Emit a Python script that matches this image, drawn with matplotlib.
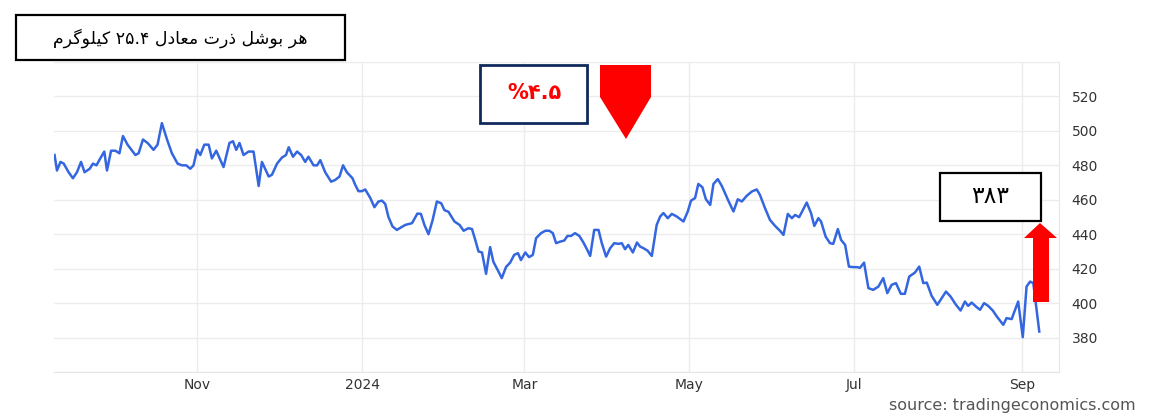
import datetime as dt
import matplotlib
matplotlib.use('Agg')
import matplotlib.pyplot as plt
import matplotlib.dates as mdates
import numpy as np
from matplotlib.patches import Rectangle, Polygon

# days counted from 2023-11-01, prices in US cents per bushel
days = [-52.8, -51.9, -50.6, -49.4, -47.6, -46.0, -44.5, -43.0, -41.7, -39.8,
        -38.6, -37.3, -35.9, -34.4, -33.4, -31.9, -30.3, -28.8, -27.5, -25.8,
        -22.9, -21.7, -20.1, -18.4, -16.2, -14.7, -13.1, -11.2, -9.4, -7.3,
        -5.7, -4.1, -2.6, -1.4, -0.1, 1.1, 2.6, 4.2, 5.4, 7.0,
        9.7, 11.9, 13.2, 14.4, 15.6, 17.1, 19.0, 20.8, 22.7, 23.9,
        26.4, 27.6, 29.5, 31.3, 32.8, 33.8, 35.4, 36.9, 38.4, 39.9,
        41.1, 43.0, 44.3, 45.5, 47.3, 49.5, 51.0, 52.6, 53.9, 55.3,
        57.4, 58.4, 59.6, 60.9, 62.1, 64.0, 65.5, 67.0, 68.3, 69.5,
        70.7, 72.2, 73.8, 75.4, 76.9, 79.4, 81.4, 82.7, 84.0, 85.5,
        87.0, 88.6, 90.2, 91.4, 92.9, 95.1, 97.0, 98.5, 100.3, 101.6,
        102.8, 104.0, 105.3, 106.8, 108.3, 109.5, 111.4, 112.6, 114.2, 115.7,
        117.2, 118.6, 119.7, 121.3, 122.7, 124.1, 125.3, 127.1, 128.7, 130.2,
        131.5, 132.7, 134.2, 135.7, 136.9, 138.2, 139.7, 141.3, 142.8, 144.1,
        145.3, 146.8, 148.4, 149.6, 151.2, 152.7, 154.2, 155.8, 157.0, 158.2,
        159.4, 161.1, 162.6, 163.8, 165.0, 166.5, 168.1, 169.9, 171.2, 172.4,
        174.0, 175.5, 177.3, 179.8, 181.4, 182.6, 184.1, 185.3, 186.8, 188.1,
        189.7, 190.9, 192.5, 194.0, 196.4, 198.3, 199.9, 201.4, 203.2, 205.1,
        206.9, 208.1, 210.0, 211.8, 213.7, 215.5, 216.8, 218.4, 219.9, 221.1,
        222.6, 225.4, 227.0, 228.2, 229.7, 230.7, 232.4, 234.0, 235.2, 236.9,
        238.1, 239.6, 241.0, 242.6, 243.9, 245.1, 246.6, 248.2, 250.0, 251.9,
        253.7, 255.2, 256.8, 258.4, 260.2, 261.7, 263.3, 265.4, 267.0, 268.5,
        269.8, 271.6, 273.7, 275.3, 276.9, 278.6, 280.6, 282.3, 283.9, 285.1,
        286.4, 288.0, 289.5, 291.0, 292.5, 294.2, 295.9, 298.1, 299.3, 301.2,
        302.0, 303.6, 305.3, 306.7, 308.0, 309.2, 311.4]
price = [486, 477, 482, 481, 476, 472.5, 476, 482, 476, 478,
         481, 480, 484, 488, 477, 488.5, 488.5, 487, 497, 492,
         486, 487, 495, 493, 489, 492, 504.5, 495, 487, 481,
         480, 480, 478, 480, 489, 486, 492, 492, 484, 488.5,
         479, 493, 494, 489, 493, 486, 488, 488, 468, 482,
         473.5, 474.5, 481, 484.5, 486, 490.5, 485, 488, 486, 482,
         485, 480, 480, 483, 476, 470.5, 471.5, 473.5, 480, 476,
         472.5, 468.7, 465, 465, 466, 461, 455.7, 459, 459.5, 457.6,
         450, 444.5, 442.5, 444, 445.4, 446.4, 452, 451.8, 445.4, 440,
         448, 459, 458, 454, 453, 447.4, 445.4, 442, 443.5, 443,
         436.7, 430, 429.4, 417, 432.5, 424, 418.3, 414.5, 421, 423.5,
         428, 429, 425, 429.4, 426.7, 428, 437.7, 440.6, 442, 442,
         440.6, 434.8, 435.7, 436.3, 439, 439, 440.6, 439, 435.2, 431.3,
         427.4, 442.5, 442.5, 434.8, 427, 431.9, 434.8, 434.4, 434.8, 431.3,
         433.8, 429.4, 435.2, 432.8, 431.9, 430.5, 427.4, 445.4, 450.3, 452.3,
         449.3, 451.8, 450.3, 447.4, 453.2, 459.5, 461, 469.2, 467.3, 460.3,
         457, 469.2, 472, 468, 459.5, 453.2, 460.3, 459, 462.3, 464.8,
         466, 462.8, 455, 448.3, 444.8, 442, 439.6, 451.8, 449.3, 451.2,
         449.9, 458.4, 452.2, 444.8, 449.3, 447.4, 438.6, 434.8, 434.4, 443,
         436.7, 433.8, 421.2, 420.9, 420.9, 420.5, 423.5, 408.7, 407.7, 409.6,
         414.5, 405.8, 410.6, 411.6, 405.4, 405.4, 415.4, 417.7, 421.2, 411.6,
         411.9, 404.2, 399, 402.9, 406.7, 403.8, 399, 395.7, 400.9, 398.4,
         400.3, 398, 396.1, 400, 398.4, 395.7, 391.8, 387.4, 391.3, 390.7,
         394.2, 400.9, 380.2, 409.6, 412.5, 411.6, 383.5]

y_ticks = [380, 400, 420, 440, 460, 480, 500, 520]
note_text = 'هر بوشل ذرت معادل ۲۵.۴ کیلوگرم'
change_text = '%۴.۵'
last_text = '۳۸۳'
source_text = 'source: tradingeconomics.com'

# minimal arabic shaping (matplotlib has no complex text layout)
FORMS = {
    'ه': ('\uFEE9', '\uFEEA', '\uFEEB', '\uFEEC'),
    'ب': ('\uFE8F', '\uFE90', '\uFE91', '\uFE92'),
    'ش': ('\uFEB5', '\uFEB6', '\uFEB7', '\uFEB8'),
    'ل': ('\uFEDD', '\uFEDE', '\uFEDF', '\uFEE0'),
    'ت': ('\uFE95', '\uFE96', '\uFE97', '\uFE98'),
    'م': ('\uFEE1', '\uFEE2', '\uFEE3', '\uFEE4'),
    'ع': ('\uFEC9', '\uFECA', '\uFECB', '\uFECC'),
    'ک': ('\uFB8E', '\uFB8F', '\uFB90', '\uFB91'),
    'ی': ('\uFBFC', '\uFBFD', '\uFBFE', '\uFBFF'),
    'گ': ('\uFB92', '\uFB93', '\uFB94', '\uFB95'),
    'ر': ('\uFEAD', '\uFEAE', '\uFEAD', '\uFEAE'),
    'و': ('\uFEED', '\uFEEE', '\uFEED', '\uFEEE'),
    'ذ': ('\uFEAB', '\uFEAC', '\uFEAB', '\uFEAC'),
    'ا': ('\uFE8D', '\uFE8E', '\uFE8D', '\uFE8E'),
    'د': ('\uFEA9', '\uFEAA', '\uFEA9', '\uFEAA'),
}
RIGHT_ONLY = set('روذاد')


def shape_word(w):
    out = []
    for i, ch in enumerate(w):
        if ch not in FORMS:
            out.append(ch)
            continue
        prev = w[i-1] if i > 0 else None
        nxt = w[i+1] if i+1 < len(w) else None
        jp = prev in FORMS and prev not in RIGHT_ONLY
        jn = ch not in RIGHT_ONLY and nxt in FORMS
        iso, fin, ini, med = FORMS[ch]
        if jp and jn: out.append(med)
        elif jp: out.append(fin)
        elif jn: out.append(ini)
        else: out.append(iso)
    return ''.join(out)[::-1]


def fa(text):
    words = text.split(' ')
    vis = [shape_word(w) if any(c in FORMS for c in w) else w for w in words]
    return ' '.join(vis[::-1])


W, H = 1161, 415
fig = plt.figure(figsize=(W/100, H/100), dpi=100)
ax = fig.add_axes([54/W, 1-372/H, (1059-54)/W, (372-62)/H])

start = mdates.date2num(dt.datetime(2023, 11, 1))
x = start + np.array(days)
ax.plot(x, price, color='#3466e0', linewidth=1.8, solid_joinstyle='round')

ax.set_ylim(360, 540)
ax.set_xlim(start - 53, start + 318.7)
ax.set_yticks(list(range(360, 541, 20)))
ax.set_yticklabels(['' if v not in y_ticks else str(v) for v in range(360, 541, 20)])
ax.yaxis.tick_right()
ax.xaxis.set_major_locator(mdates.MonthLocator(bymonth=[1, 3, 5, 7, 9, 11]))
ax.xaxis.set_major_formatter(
    plt.FuncFormatter(lambda v, p: mdates.num2date(v).strftime('%Y' if mdates.num2date(v).month == 1 else '%b')))
ax.tick_params(axis='y', length=0, pad=9, labelsize=10, labelcolor='#333333')
ax.tick_params(axis='x', length=0, pad=4, labelsize=10, labelcolor='#333333')
ax.grid(True, color='#ececec', linewidth=1.0)
for s in ['top', 'left']:
    ax.spines[s].set_visible(False)
ax.spines['bottom'].set_color('#e6e6e6')
ax.spines['right'].set_color('#e6e6e6')


def fx(px):
    return px / W


def fy(py):
    return 1 - py / H


# note box top left
fig.add_artist(Rectangle((fx(16), fy(60)), fx(345) - fx(16), fy(15) - fy(60),
                         transform=fig.transFigure, facecolor='white', edgecolor='black', linewidth=1.6))
fig.text(fx(180), fy(38), fa(note_text), ha='center', va='center', fontsize=12.5,
         family='DejaVu Sans', color='black')

# change box and down arrow
fig.add_artist(Rectangle((fx(480), fy(123)), fx(587) - fx(480), fy(65) - fy(123),
                         transform=fig.transFigure, facecolor='white', edgecolor='#102a5c', linewidth=2))
fig.text(fx(534), fy(93), change_text, ha='center', va='center', fontsize=15,
         fontweight='bold', family='DejaVu Sans', color='#ff0000')
fig.add_artist(Polygon([(fx(600), fy(65)), (fx(651), fy(65)), (fx(651), fy(97)),
                        (fx(626), fy(139)), (fx(600), fy(97))],
                       transform=fig.transFigure, facecolor='#ff0000', edgecolor='none'))

# last value box and up arrow
fig.add_artist(Rectangle((fx(940), fy(221)), fx(1041) - fx(940), fy(173) - fy(221),
                         transform=fig.transFigure, facecolor='white', edgecolor='black', linewidth=1.6))
fig.text(fx(990), fy(196), last_text, ha='center', va='center', fontsize=17,
         family='DejaVu Sans', color='black')
fig.add_artist(Polygon([(fx(1033), fy(302)), (fx(1049), fy(302)), (fx(1049), fy(238)),
                        (fx(1057), fy(238)), (fx(1040), fy(223)), (fx(1024), fy(238)),
                        (fx(1033), fy(238))],
                       transform=fig.transFigure, facecolor='#ff0000', edgecolor='none'))

fig.text(fx(1136), fy(405), source_text, ha='right', va='center', fontsize=11.5,
         color='#555555')

fig.savefig('out.png', dpi=100)
